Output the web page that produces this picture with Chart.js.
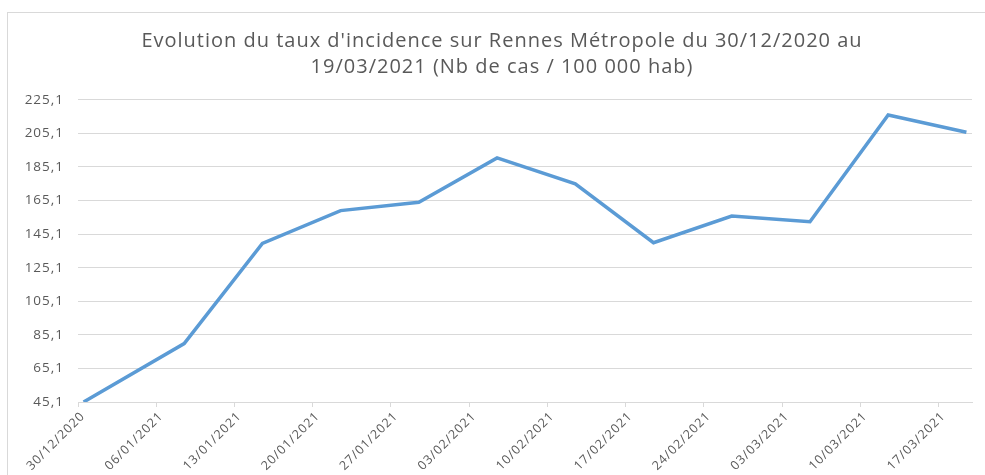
<!DOCTYPE html>
<html>
<head>
<meta charset="utf-8">
<script src="https://cdn.jsdelivr.net/npm/chart.js@4"></script>
<style>
  body { margin: 0; background: #fff; }
  #frame { position: absolute; left: 7px; top: 12px; width: 1000px; height: 480px; border: 1px solid #d9d9d9; }
  #wrap { position: absolute; left: 0; top: 0; width: 985px; height: 475px; }
</style>
</head>
<body>
<div id="frame"></div>
<div id="wrap"><canvas id="chart"></canvas></div>
<script>
// données
const dates = ["30/12/2020", "08/01/2021", "15/01/2021", "22/01/2021", "29/01/2021", "05/02/2021",
  "12/02/2021", "19/02/2021", "26/02/2021", "05/03/2021", "12/03/2021", "19/03/2021"];
const taux = [45.1, 79.9, 139.6, 159.1, 164.1, 190.5, 175.0, 140.0, 155.9, 152.5, 216.0, 205.8];

const xTickLabels = ["30/12/2020", "06/01/2021", "13/01/2021", "20/01/2021", "27/01/2021", "03/02/2021",
  "10/02/2021", "17/02/2021", "24/02/2021", "03/03/2021", "10/03/2021", "17/03/2021"];
const yTicks = [45.1, 65.1, 85.1, 105.1, 125.1, 145.1, 165.1, 185.1, 205.1, 225.1];

const titre = ["Evolution du taux d'incidence sur Rennes Métropole du 30/12/2020 au",
  "19/03/2021 (Nb de cas / 100 000 hab)"];

const toDay = s => {
  const [d, m, y] = s.split("/").map(Number);
  return Date.UTC(y, m - 1, d) / 86400000;
};
const day0 = toDay(dates[0]);
const dayOf = s => toDay(s) - day0;

// axe de dates type Excel : le point est au milieu de sa journée
const points = dates.map((d, i) => ({ x: dayOf(d) + 0.5, y: taux[i] }));

const grey = "#595959";
const gridCol = "#d9d9d9";
const font = "'Open Sans', 'Liberation Sans', sans-serif";

// texte un peu plus large, comme le rendu Excel d'origine
const spacing = {
  id: "spacing",
  beforeDraw: c => { c.ctx.letterSpacing = "1px"; },
  afterDraw: c => { c.ctx.letterSpacing = "0px"; }
};
// le padding gauche sert à centrer le titre ; on rend la place aux libellés de l'axe y
const yLabelRoom = {
  id: "yLabelRoom",
  afterLayout: c => { c.scales.y.left = 0; }
};

new Chart(document.getElementById("chart"), {
  type: "line",
  data: {
    datasets: [{
      data: points,
      borderColor: "#5b9bd5",
      borderWidth: 3.5,
      pointRadius: 0,
      tension: 0,
      fill: false,
      borderJoinStyle: "miter"
    }]
  },
  plugins: [spacing, yLabelRoom],
  options: {
    responsive: true,
    maintainAspectRatio: false,
    animation: false,
    layout: { padding: { left: 32, right: 13, top: 0, bottom: 0 } },
    plugins: {
      legend: { display: false },
      tooltip: { enabled: false },
      title: {
        display: true,
        text: titre,
        color: grey,
        font: { family: font, size: 20, weight: "normal", lineHeight: 1.32 },
        padding: { top: 28, bottom: 19 }
      }
    },
    scales: {
      x: {
        type: "linear",
        min: 0,
        max: 80,
        afterBuildTicks: s => { s.ticks = xTickLabels.map(l => ({ value: dayOf(l) })); },
        afterFit: s => { s.height = 73; },
        ticks: {
          autoSkip: false,
          minRotation: 45,
          maxRotation: 45,
          color: grey,
          padding: 2,
          labelOffset: 5,
          font: { family: font, size: 12.5 },
          callback: v => xTickLabels.find(l => dayOf(l) === v) || ""
        },
        grid: { drawOnChartArea: false, drawTicks: true, tickLength: 5, color: gridCol },
        border: { display: true, color: gridCol, width: 1 }
      },
      y: {
        min: yTicks[0],
        max: yTicks[yTicks.length - 1],
        afterBuildTicks: s => { s.ticks = yTicks.map(v => ({ value: v })); },
        afterFit: s => { s.width = 46; },
        ticks: {
          color: grey,
          padding: 14,
          font: { family: font, size: 13.5 },
          callback: v => v.toFixed(1).replace(".", ",")
        },
        grid: { color: gridCol, lineWidth: 1, drawTicks: false },
        border: { display: false }
      }
    }
  }
});
</script>
</body>
</html>
